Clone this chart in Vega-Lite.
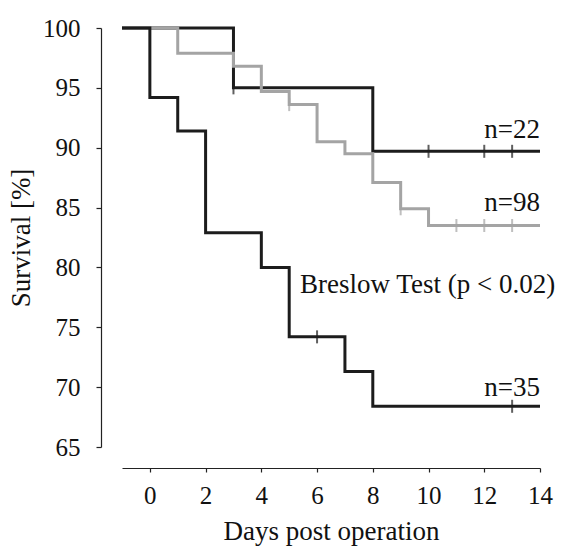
{
  "$schema": "https://vega.github.io/schema/vega-lite/v6.json",
  "width": 418,
  "height": 419,
  "autosize": {"type": "none"},
  "padding": {"left": 122, "top": 28, "right": 23, "bottom": 107},
  "background": "white",
  "config": {
    "view": {"stroke": null},
    "font": "Liberation Serif",
    "axis": {"grid": false, "domainColor": "#222", "tickColor": "#222", "labelColor": "#111", "titleColor": "#111", "labelFont": "Liberation Serif", "titleFont": "Liberation Serif", "labelFontSize": 25, "titleFontSize": 27, "titleFontWeight": "normal", "labelFlush": false}
  },
  "datasets": {
    "curves": [
      {"group": "n22", "t": -1, "s": 100},
      {"group": "n22", "t": 3, "s": 95.0},
      {"group": "n22", "t": 8, "s": 89.7},
      {"group": "n22", "t": 14, "s": 89.7},
      {"group": "n98", "t": -1, "s": 100},
      {"group": "n98", "t": 1, "s": 97.9},
      {"group": "n98", "t": 3, "s": 96.8},
      {"group": "n98", "t": 4, "s": 94.7},
      {"group": "n98", "t": 5, "s": 93.6},
      {"group": "n98", "t": 6, "s": 90.5},
      {"group": "n98", "t": 7, "s": 89.5},
      {"group": "n98", "t": 8, "s": 87.1},
      {"group": "n98", "t": 9, "s": 84.9},
      {"group": "n98", "t": 10, "s": 83.5},
      {"group": "n98", "t": 14, "s": 83.5},
      {"group": "n35", "t": -1, "s": 100},
      {"group": "n35", "t": 0, "s": 94.2},
      {"group": "n35", "t": 1, "s": 91.4},
      {"group": "n35", "t": 2, "s": 82.9},
      {"group": "n35", "t": 4, "s": 80.0},
      {"group": "n35", "t": 5, "s": 74.2},
      {"group": "n35", "t": 7, "s": 71.3},
      {"group": "n35", "t": 8, "s": 68.4},
      {"group": "n35", "t": 14, "s": 68.4}
    ],
    "censors": [
      {"group": "n22", "t": 3, "s": 95.0},
      {"group": "n22", "t": 10, "s": 89.7},
      {"group": "n22", "t": 12, "s": 89.7},
      {"group": "n22", "t": 13, "s": 89.7},
      {"group": "n98", "t": 5, "s": 93.6},
      {"group": "n98", "t": 9, "s": 84.9},
      {"group": "n98", "t": 11, "s": 83.5},
      {"group": "n98", "t": 12, "s": 83.5},
      {"group": "n98", "t": 13, "s": 83.5},
      {"group": "n35", "t": 6, "s": 74.2},
      {"group": "n35", "t": 13, "s": 68.4}
    ],
    "nlabels": [
      {"t": 14, "s": 90.8, "label": "n=22"},
      {"t": 14, "s": 84.7, "label": "n=98"},
      {"t": 14, "s": 69.3, "label": "n=35"}
    ],
    "note": [
      {"t": 5.39, "s": 77.9, "label": "Breslow Test (p < 0.02)"}
    ]
  },
  "layer": [
    {
      "data": {"name": "curves"},
      "mark": {"type": "line", "interpolate": "step-after", "strokeWidth": 3, "clip": false},
      "encoding": {
        "x": {"field": "t", "type": "quantitative", "scale": {"domain": [-1, 14], "nice": false, "zero": false},
          "axis": {"title": "Days post operation", "values": [0, 2, 4, 6, 8, 10, 12, 14], "offset": 21, "tickSize": 4, "labelPadding": 11, "titlePadding": 10, "domainWidth": 1.2, "tickWidth": 1.2}},
        "y": {"field": "s", "type": "quantitative", "scale": {"domain": [65, 100], "nice": false, "zero": false},
          "axis": {"title": "Survival [%]", "values": [65, 70, 75, 80, 85, 90, 95, 100], "offset": 21, "tickSize": 5, "labelPadding": 16, "titlePadding": 7, "domainWidth": 1.2, "tickWidth": 1.2}},
        "stroke": {"field": "group", "type": "nominal", "scale": {"domain": ["n98", "n22", "n35"], "range": ["#a4a4a4", "#1c1c1c", "#1c1c1c"]}, "legend": null},
        "order": {"field": "t", "type": "quantitative"},
        "detail": {"field": "group"}
      }
    },
    {
      "data": {"name": "censors"},
      "mark": {"type": "tick", "orient": "vertical", "size": 13, "thickness": 2, "clip": false},
      "encoding": {
        "x": {"field": "t", "type": "quantitative"},
        "y": {"field": "s", "type": "quantitative"},
        "color": {"field": "group", "type": "nominal", "scale": {"domain": ["n98", "n22", "n35"], "range": ["#a4a4a4", "#1c1c1c", "#1c1c1c"]}, "legend": null}
      }
    },
    {
      "data": {"name": "nlabels"},
      "mark": {"type": "text", "align": "right", "baseline": "alphabetic", "fontSize": 27, "font": "Liberation Serif", "color": "#111", "clip": false},
      "encoding": {
        "x": {"field": "t", "type": "quantitative"},
        "y": {"field": "s", "type": "quantitative"},
        "text": {"field": "label"}
      }
    },
    {
      "data": {"name": "note"},
      "mark": {"type": "text", "align": "left", "baseline": "alphabetic", "fontSize": 27, "font": "Liberation Serif", "color": "#111", "clip": false},
      "encoding": {
        "x": {"field": "t", "type": "quantitative"},
        "y": {"field": "s", "type": "quantitative"},
        "text": {"field": "label"}
      }
    }
  ]
}
